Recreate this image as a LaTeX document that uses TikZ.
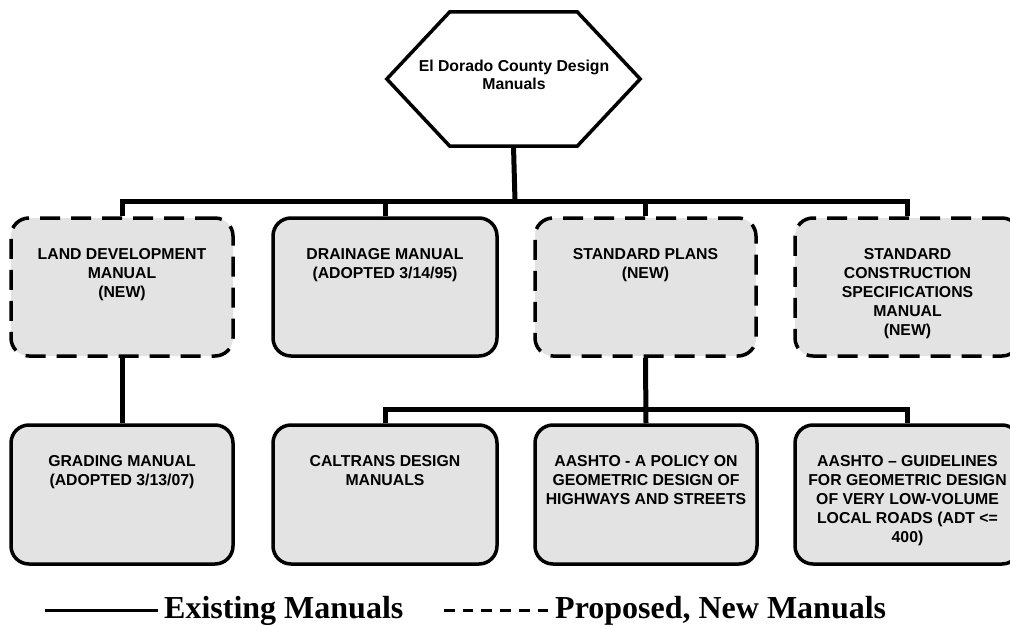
\documentclass[tikz,border=0pt]{standalone}
\usepackage{fontspec}
\setmainfont{Liberation Sans}
\newfontfamily\legendfont{Liberation Serif}
\definecolor{boxgray}{gray}{0.89}
\tikzset{
  conn/.style={line width=5pt},
  hexline/.style={line width=3.5pt, line join=miter},
  box/.style={draw, line width=3.5pt, rounded corners=18pt, fill=boxgray, inner sep=0pt},
  newbox/.style={box, dash pattern=on 20pt off 11pt},
  lbl/.style={font=\fontsize{15.8}{19}\selectfont\bfseries, align=center, inner sep=0pt, anchor=north},
  legtext/.style={font=\legendfont\bfseries\fontsize{32}{36}\selectfont, inner sep=0pt, anchor=base west},
}
\begin{document}
\begin{tikzpicture}[x=1pt,y=-1pt]
\clip (0,0) rectangle (1010,626);
\fill[white] (0,0) rectangle (1010,626);

% hexagon
\node[minimum width=253pt, minimum height=134pt, inner sep=0pt] (hex) at (513.5,79) {};
\draw[hexline, fill=white] ([xshift=63pt]hex.north west) -- ([xshift=-63pt]hex.north east) -- (hex.east)
  -- ([xshift=-63pt]hex.south east) -- ([xshift=63pt]hex.south west) -- (hex.west) -- cycle;
\node[font=\fontsize{15.8}{18}\selectfont\bfseries, align=center, inner sep=0pt] (hext) at (514,75)
  {El Dorado County Design\\Manuals};

% boxes (top row)
\node[newbox, minimum width=222pt, minimum height=138pt] (b1) at (122,287) {};
\node[box,    minimum width=224pt, minimum height=138pt] (b2) at (385,287) {};
\node[newbox, minimum width=221pt, minimum height=138pt] (b3) at (645.5,287) {};
\node[newbox, minimum width=225pt, minimum height=138pt] (b4) at (907.5,287) {};
% boxes (bottom row)
\node[box, minimum width=222pt, minimum height=139pt] (c1) at (122,494.5) {};
\node[box, minimum width=224pt, minimum height=139pt] (c2) at (385,494.5) {};
\node[box, minimum width=222pt, minimum height=139pt] (c3) at (646,494.5) {};
\node[box, minimum width=225pt, minimum height=139pt] (c4) at (907.5,494.5) {};

% connectors
\coordinate (busA) at (515,201);
\coordinate (busB) at (646,409);
\draw[conn] (hex.south) -- (busA);
\draw[conn] (b1.north) |- (busA) -| (b4.north);
\draw[conn] (b2.north) -- (b2.north |- busA);
\draw[conn] (b3.north) -- (b3.north |- busA);
\draw[conn] (b1.south) -- (c1.north);
\draw[conn] (b3.south) -- (c3.north);
\draw[conn] (c2.north) |- (busB) -| (c4.north);

% labels
\node[lbl] (t1) at ([yshift=-32pt]b1.north) {LAND DEVELOPMENT\\MANUAL\\(NEW)};
\node[lbl] (t2) at ([yshift=-32pt]b2.north) {DRAINAGE MANUAL\\(ADOPTED 3/14/95)};
\node[lbl] (t3) at ([yshift=-32pt]b3.north) {STANDARD PLANS\\(NEW)};
\node[lbl] (t4) at ([yshift=-32pt]b4.north) {STANDARD\\CONSTRUCTION\\SPECIFICATIONS\\MANUAL\\(NEW)};
\node[lbl] (u1) at ([yshift=-32pt]c1.north) {GRADING MANUAL\\(ADOPTED 3/13/07)};
\node[lbl] (u2) at ([yshift=-32pt]c2.north) {CALTRANS DESIGN\\MANUALS};
\node[lbl] (u3) at ([yshift=-32pt]c3.north) {AASHTO - A POLICY ON\\GEOMETRIC DESIGN OF\\HIGHWAYS AND STREETS};
\node[lbl] (u4) at ([yshift=-32pt]c4.north) {AASHTO – GUIDELINES\\FOR GEOMETRIC DESIGN\\OF VERY LOW-VOLUME\\LOCAL ROADS (ADT <=\\400)};

% legend
\coordinate (ls1) at (45,610);
\coordinate (ls2) at (158,610);
\coordinate (ld1) at (444,610);
\coordinate (ld2) at (548,610);
\draw[line width=3pt] (ls1) -- (ls2);
\draw[line width=3pt, dash pattern=on 10.7pt off 8pt] (ld1) -- (ld2);
\node[legtext] (leg1) at (164,618) {Existing Manuals};
\node[legtext] (leg2) at (555,618) {Proposed, New Manuals};
\end{tikzpicture}
\end{document}
